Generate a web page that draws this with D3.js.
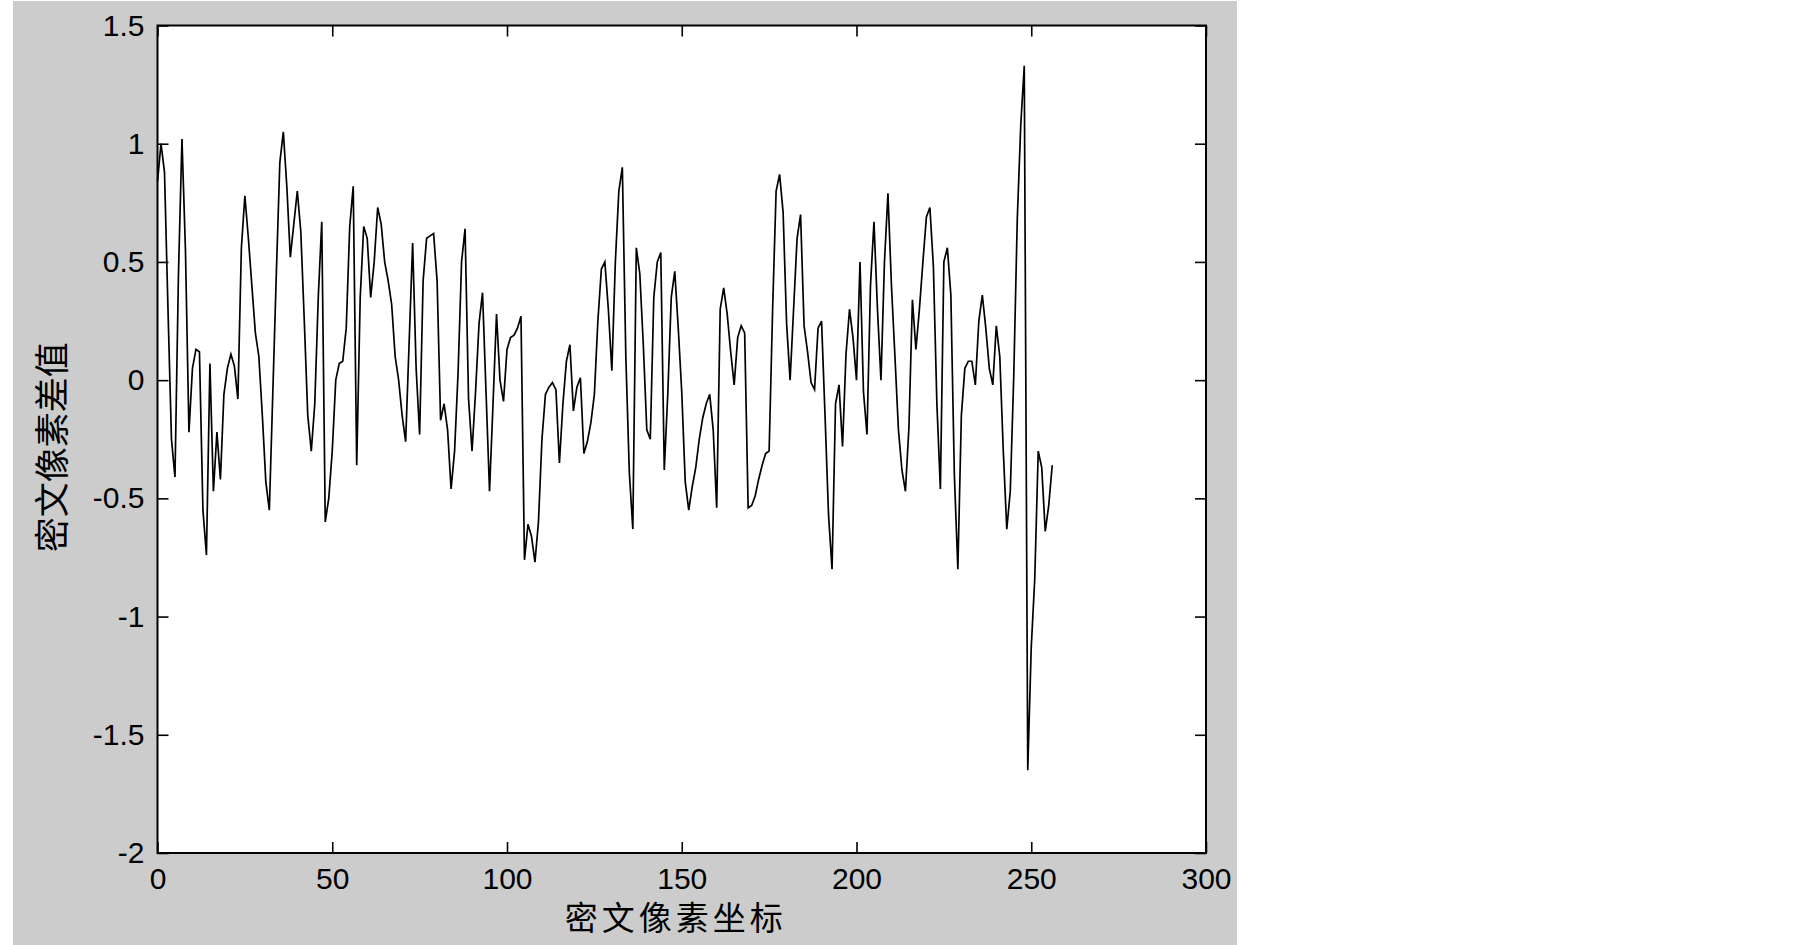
<!DOCTYPE html>
<html>
<head>
<meta charset="utf-8">
<script src="https://cdn.jsdelivr.net/npm/d3@7"></script>
<style>
  html, body { margin: 0; padding: 0; background: #ffffff; }
  svg { display: block; }
  .tick text { font-family: "Liberation Sans", Arial, sans-serif; font-size: 30px; fill: #000; }
  .cjk { font-family: "Noto Sans CJK SC", sans-serif; fill: #000; }
</style>
</head>
<body>
<svg id="chart" width="1805" height="945"></svg>
<script>
// ---- data ----
const pixelValues = [
  0.84, 1.00, 0.88, 0.30, -0.25, -0.41, 0.45, 1.02, 0.55, -0.22,
  0.05, 0.13, 0.12, -0.55, -0.74, 0.07, -0.47, -0.22, -0.42, -0.06,
  0.05, 0.11, 0.06, -0.08, 0.56, 0.78, 0.60, 0.40, 0.20, 0.10,
  -0.15, -0.43, -0.55, -0.05, 0.45, 0.92, 1.05, 0.82, 0.52, 0.66,
  0.80, 0.63, 0.25, -0.15, -0.30, -0.10, 0.35, 0.67, -0.60, -0.50,
  -0.30, 0.00, 0.07, 0.08, 0.22, 0.65, 0.82, -0.36, 0.35, 0.65,
  0.60, 0.35, 0.50, 0.73, 0.66, 0.50, 0.42, 0.32, 0.10, 0.00,
  -0.15, -0.26, 0.16, 0.58, 0.05, -0.23, 0.42, 0.60, 0.61, 0.62,
  0.42, -0.17, -0.10, -0.21, -0.46, -0.30, 0.03, 0.50, 0.64, -0.08,
  -0.30, -0.05, 0.24, 0.37, -0.05, -0.47, -0.10, 0.28, 0.00, -0.09,
  0.13, 0.18, 0.19, 0.22, 0.27, -0.76, -0.61, -0.66, -0.77, -0.60,
  -0.25, -0.06, -0.03, -0.01, -0.04, -0.35, -0.10, 0.08, 0.15, -0.13,
  -0.03, 0.01, -0.31, -0.26, -0.18, -0.06, 0.25, 0.47, 0.50, 0.30,
  0.04, 0.50, 0.80, 0.90, 0.10, -0.39, -0.63, 0.56, 0.45, 0.15,
  -0.21, -0.25, 0.35, 0.50, 0.54, -0.38, -0.06, 0.35, 0.46, 0.22,
  -0.05, -0.43, -0.55, -0.45, -0.37, -0.25, -0.16, -0.10, -0.06, -0.21,
  -0.54, 0.30, 0.39, 0.28, 0.12, -0.02, 0.18, 0.23, 0.20, -0.54,
  -0.53, -0.49, -0.42, -0.36, -0.31, -0.30, 0.30, 0.80, 0.87, 0.71,
  0.24, 0.00, 0.30, 0.60, 0.70, 0.23, 0.12, -0.01, -0.04, 0.22,
  0.25, -0.15, -0.57, -0.80, -0.10, -0.02, -0.28, 0.11, 0.30, 0.18,
  0.00, 0.50, -0.05, -0.23, 0.40, 0.67, 0.30, 0.00, 0.50, 0.79,
  0.40, 0.10, -0.21, -0.38, -0.47, -0.20, 0.34, 0.13, 0.30, 0.50,
  0.69, 0.73, 0.48, -0.10, -0.46, 0.50, 0.56, 0.36, -0.40, -0.80,
  -0.15, 0.05, 0.08, 0.08, -0.02, 0.25, 0.36, 0.22, 0.05, -0.02,
  0.23, 0.10, -0.30, -0.63, -0.47, 0.02, 0.68, 1.08, 1.33, -1.65,
  -1.13, -0.84, -0.30, -0.37, -0.64, -0.53, -0.36
];
const pixelIndex = d3.range(pixelValues.length); // x coordinate = pixel position 0..256
const xTickValues = [0, 50, 100, 150, 200, 250, 300];
const yTickValues = [-2, -1.5, -1, -0.5, 0, 0.5, 1, 1.5];
const xDomain = [0, 300];
const yDomain = [-2, 1.5];
const xTitle = "密文像素坐标";
const yTitle = "密文像素差值";

// ---- layout ----
const svg = d3.select("#chart");
const plot = { left: 157.5, right: 1206, top: 25.5, bottom: 853 };

svg.append("rect")
  .attr("x", 13).attr("y", 1).attr("width", 1224).attr("height", 944)
  .attr("fill", "#cccccc");

svg.append("rect")
  .attr("x", plot.left).attr("y", plot.top)
  .attr("width", plot.right - plot.left).attr("height", plot.bottom - plot.top)
  .attr("fill", "#ffffff");

const x = d3.scaleLinear().domain(xDomain).range([plot.left, plot.right]);
const y = d3.scaleLinear().domain(yDomain).range([plot.bottom, plot.top]);

const fmt = d => String(d);
const tickLen = 11;

// bottom axis
const gB = svg.append("g").attr("transform", `translate(0,${plot.bottom})`)
  .call(d3.axisBottom(x).tickValues(xTickValues).tickFormat(fmt)
    .tickSizeInner(-tickLen).tickSizeOuter(0).tickPadding(14));
// left axis
const gL = svg.append("g").attr("transform", `translate(${plot.left},0)`)
  .call(d3.axisLeft(y).tickValues(yTickValues).tickFormat(fmt)
    .tickSizeInner(-tickLen).tickSizeOuter(0).tickPadding(13));
// top axis (ticks only)
const gT = svg.append("g").attr("transform", `translate(0,${plot.top})`)
  .call(d3.axisTop(x).tickValues(xTickValues).tickFormat("")
    .tickSizeInner(-tickLen).tickSizeOuter(0));
// right axis (ticks only)
const gR = svg.append("g").attr("transform", `translate(${plot.right},0)`)
  .call(d3.axisRight(y).tickValues(yTickValues).tickFormat("")
    .tickSizeInner(-tickLen).tickSizeOuter(0));

[gB, gL, gT, gR].forEach(g => {
  g.attr("font-size", null).attr("font-family", null);
  g.select(".domain").remove();
  g.selectAll(".tick line").attr("stroke", "#000").attr("stroke-width", 1.6);
});
gB.selectAll(".tick text").attr("dy", "0.72em");

// frame
svg.append("rect")
  .attr("x", plot.left).attr("y", plot.top)
  .attr("width", plot.right - plot.left).attr("height", plot.bottom - plot.top)
  .attr("fill", "none").attr("stroke", "#000").attr("stroke-width", 2);

// data line
const line = d3.line()
  .x((d, i) => x(pixelIndex[i]))
  .y(d => y(d));
svg.append("path")
  .datum(pixelValues)
  .attr("d", line)
  .attr("fill", "none")
  .attr("stroke", "#000")
  .attr("stroke-width", 1.7)
  .attr("stroke-linejoin", "miter");

// axis titles
svg.append("text").attr("class", "cjk")
  .attr("x", (plot.left + plot.right) / 2 - 6).attr("y", 930)
  .attr("text-anchor", "middle")
  .attr("font-size", 33).attr("letter-spacing", 4)
  .text(xTitle);

svg.append("text").attr("class", "cjk")
  .attr("transform", `translate(65,${(plot.top + plot.bottom) / 2 + 8}) rotate(-90)`)
  .attr("text-anchor", "middle")
  .attr("font-size", 35)
  .text(yTitle);
</script>
</body>
</html>
